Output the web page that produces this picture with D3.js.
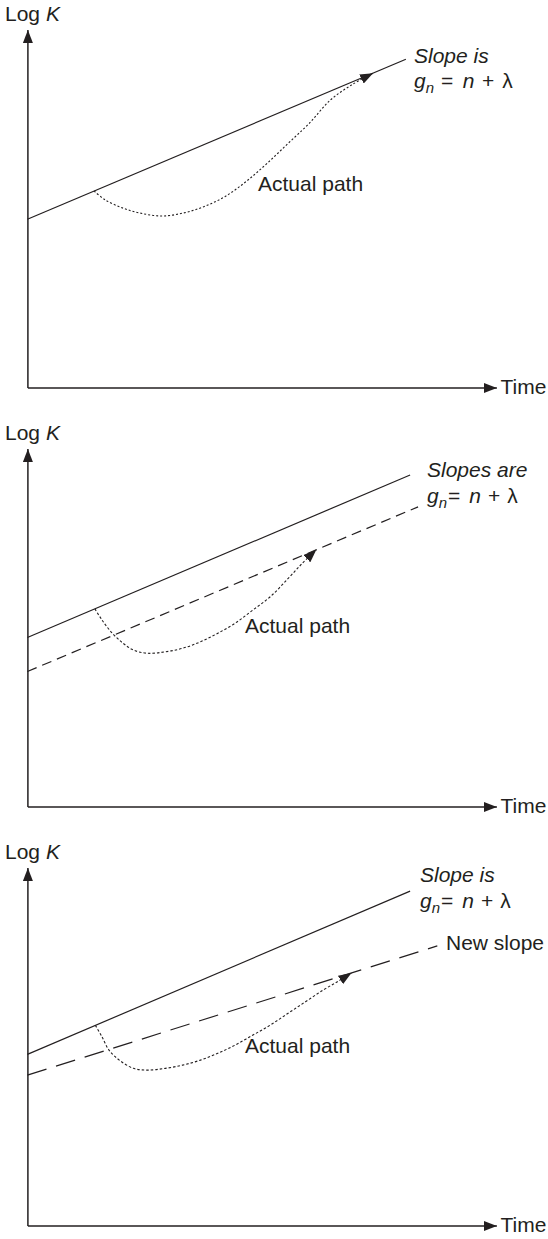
<!DOCTYPE html>
<html>
<head>
<meta charset="utf-8">
<script src="https://cdn.jsdelivr.net/npm/d3@7"></script>
<style>
  html, body { margin: 0; padding: 0; background: #fff; }
  svg { display: block; }
  text { font-family: "Liberation Sans", Arial, sans-serif; fill: #231f20; }
</style>
</head>
<body>
<svg id="chart" width="548" height="1239"></svg>
<script>
// ---------- data (conceptual units: time 0..100, log K 0..100) ----------
const timeDomain = [0, 100];
const logKDomain = [0, 100];

// Panel 1
const p1Trend = [[0, 47.0], [80.7, 91.7]];
const p1Actual = [[14.2, 54.9], [16.6, 52.4], [20.4, 50.1], [24.1, 48.7], [28.6, 47.9],
  [33.1, 48.7], [37.6, 50.5], [42.1, 53.3], [46.6, 57.5], [51.1, 62.6], [55.6, 68.2],
  [60.1, 73.8], [64.6, 80.3], [69.1, 84.5], [73.7, 87.8]];

// Panel 2
const p2Trend = [[0, 47.2], [81.6, 92.6]];
const p2Shifted = [[0, 37.7], [83.3, 83.7]];
const p2Actual = [[14.4, 55.2], [15.9, 52.1], [18.1, 48.4], [20.4, 45.6], [22.6, 43.7],
  [25.6, 42.8], [29.4, 43.2], [33.1, 44.2], [36.9, 46.0], [40.6, 48.4], [44.3, 51.2],
  [48.1, 54.9], [51.8, 58.6], [55.6, 63.7], [58.6, 67.9], [61.6, 71.7]];

// Panel 3
const p3Trend = [[0, 47.8], [81.6, 93.4]];
const p3NewSlope = [[0, 42.0], [87.4, 78.1]];
const p3Actual = [[14.5, 55.9], [15.9, 52.7], [17.4, 49.0], [19.6, 46.2], [22.6, 43.9],
  [25.6, 43.4], [29.4, 43.9], [33.1, 44.8], [36.9, 46.2], [40.6, 48.1], [44.3, 50.4],
  [48.1, 53.2], [51.8, 56.0], [55.6, 59.3], [59.3, 62.5], [63.1, 65.8], [66.1, 68.1],
  [69.1, 70.5]];

const axisLabelY = "Log ";
const axisLabelYItalic = "K";
const axisLabelX = "Time";
const actualLabel = "Actual path";
const newSlopeLabel = "New slope";
const slopeLabels = ["Slope is", "Slopes are", "Slope is"];

// ---------- drawing ----------
const svg = d3.select("#chart");
const ink = "#231f20";
const FS = 21;

const defs = svg.append("defs");
defs.append("marker")
  .attr("id", "arrow")
  .attr("viewBox", "0 0 13 10")
  .attr("refX", 13).attr("refY", 5)
  .attr("markerWidth", 13).attr("markerHeight", 10)
  .attr("markerUnits", "userSpaceOnUse")
  .attr("orient", "auto")
  .append("path").attr("d", "M0,0L13,5L0,10Z").attr("fill", ink);

const x = d3.scaleLinear().domain(timeDomain).range([27.4, 496.4]);

const panels = [
  { offset: -19, lines: [{ d: p1Trend, dash: null }], actual: p1Actual, dot: "2,2",
    slope: slopeLabels[0], sx: 414, sy: 63, gy: 88, gaps: [7, 9.5, 7.5, 8], actualPos: [258, 191] },
  { offset: 400, lines: [{ d: p2Trend, dash: null }, { d: p2Shifted, dash: "10,6" }], actual: p2Actual, dot: "2.5,2",
    slope: slopeLabels[1], sx: 427, sy: 477, gy: 503, gaps: [1, 9, 7, 7], actualPos: [245, 633] },
  { offset: 819, lines: [{ d: p3Trend, dash: null }, { d: p3NewSlope, dash: "20,10" }], actual: p3Actual, dot: "2.5,2",
    slope: slopeLabels[2], sx: 420, sy: 882, gy: 908, gaps: [1, 9, 7, 7], actualPos: [245, 1053], newSlope: [446, 950] }
];

panels.forEach(p => {
  const y = d3.scaleLinear().domain(logKDomain).range([p.offset + 406.5, p.offset + 48.5]);
  const g = svg.append("g");

  // axes (no ticks), with arrowheads
  const xa = g.append("g").attr("transform", `translate(0,${y(0)})`)
    .call(d3.axisBottom(x).tickValues([]).tickSizeOuter(0));
  xa.select(".domain").attr("stroke", ink).attr("stroke-width", 1.5).attr("marker-end", "url(#arrow)");
  const ya = g.append("g").attr("transform", `translate(${x(0)},0)`)
    .call(d3.axisLeft(y).tickValues([]).tickSizeOuter(0));
  ya.select(".domain").attr("stroke", ink).attr("stroke-width", 1.5).attr("marker-end", "url(#arrow)");

  const line = d3.line().x(d => x(d[0])).y(d => y(d[1]));
  p.lines.forEach(l => {
    g.append("path").attr("d", line(l.d)).attr("fill", "none")
      .attr("stroke", ink).attr("stroke-width", 1.2)
      .attr("stroke-dasharray", l.dash);
  });

  const curve = d3.line().x(d => x(d[0])).y(d => y(d[1])).curve(d3.curveCatmullRom.alpha(0.5));
  g.append("path").attr("d", curve(p.actual)).attr("fill", "none")
    .attr("stroke", ink).attr("stroke-width", 1.1)
    .attr("stroke-dasharray", p.dot)
    .attr("marker-end", "url(#arrow)");

  // labels
  const ly = g.append("text").attr("x", 5).attr("y", p.offset + 40).attr("font-size", FS);
  ly.append("tspan").text(axisLabelY);
  ly.append("tspan").attr("font-style", "italic").text(axisLabelYItalic);

  g.append("text").attr("x", 500.5).attr("y", y(0) + 6.5).attr("font-size", FS).text(axisLabelX);

  g.append("text").attr("x", p.actualPos[0]).attr("y", p.actualPos[1]).attr("font-size", FS).text(actualLabel);

  g.append("text").attr("x", p.sx).attr("y", p.sy).attr("font-size", FS)
    .attr("font-style", "italic").text(p.slope);

  const gt = g.append("text").attr("x", p.sx).attr("y", p.gy).attr("font-size", FS);
  gt.append("tspan").attr("font-style", "italic").text("g");
  gt.append("tspan").attr("font-style", "italic").attr("font-size", 15).attr("dy", 5).text("n");
  gt.append("tspan").attr("dy", -5).attr("dx", p.gaps[0]).text("=");
  gt.append("tspan").attr("dx", p.gaps[1]).attr("font-style", "italic").text("n");
  gt.append("tspan").attr("dx", p.gaps[2]).text("+");
  gt.append("tspan").attr("dx", p.gaps[3]).text("λ");

  if (p.newSlope) {
    g.append("text").attr("x", p.newSlope[0]).attr("y", p.newSlope[1]).attr("font-size", FS).text(newSlopeLabel);
  }
});
</script>
</body>
</html>
